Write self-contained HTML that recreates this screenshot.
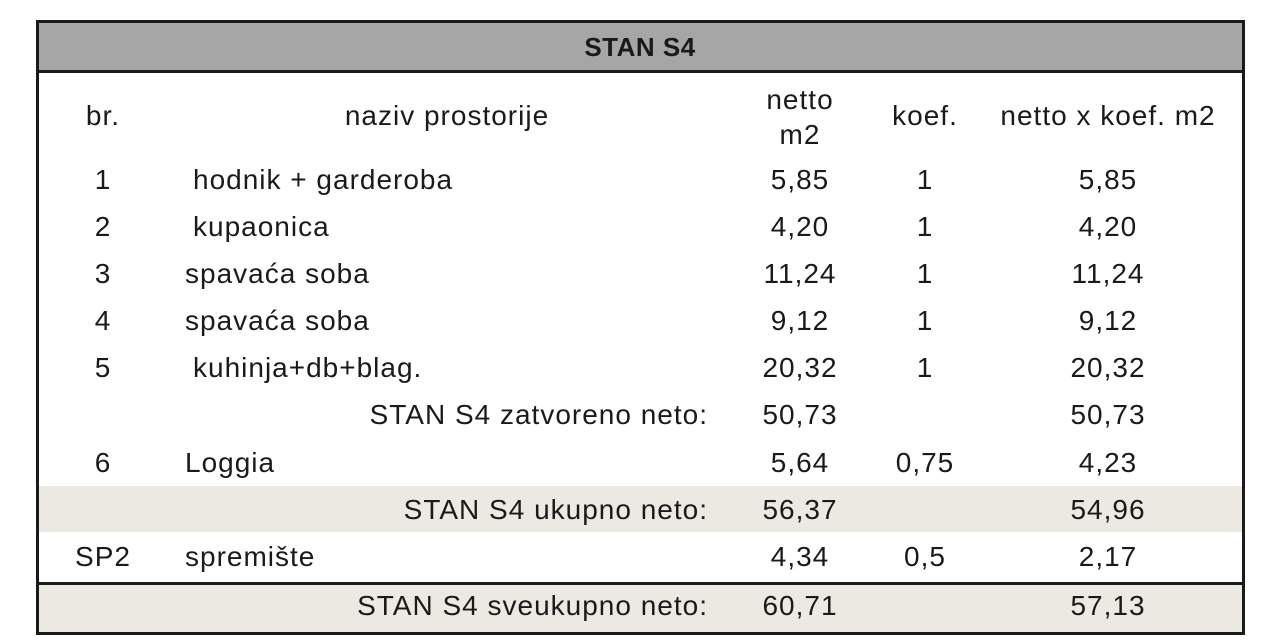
<!DOCTYPE html>
<html><head><meta charset="utf-8"><style>
body{margin:0;width:1280px;height:641px;background:#fff;position:relative;font-family:"Liberation Sans",sans-serif;color:#1a1a1a;overflow:hidden}
.t{position:absolute;font-size:28px;letter-spacing:1px;line-height:30px;white-space:nowrap}
.c{transform:translateX(-50%)}
.r{transform:translateX(-100%)}
.box{position:absolute;left:36px;top:20px;width:1203px;height:609px;border:3px solid #1a1a1a}
.band{position:absolute;left:39px;width:1203px;background:#ebe9e1}
</style></head><body>
<div style="position:absolute;left:39px;top:23px;width:1203px;height:47px;background:#a6a6a6;border-bottom:3px solid #1a1a1a"></div>
<div class="band" style="top:486px;height:46px"></div>
<div class="band" style="top:582px;height:47px;border-top:3px solid #1a1a1a"></div>
<div class="box"></div>
<div class="t c" style="left:640px;top:32px;font-weight:bold;font-size:26px;letter-spacing:0.5px">STAN S4</div>
<div class="t c" style="left:103px;top:101px">br.</div>
<div class="t c" style="left:447px;top:101px">naziv prostorije</div>
<div class="t c" style="left:800px;top:82px;text-align:center;line-height:35px">netto<br>m2</div>
<div class="t c" style="left:925px;top:101px">koef.</div>
<div class="t c" style="left:1108px;top:101px">netto x koef. m2</div>

<div class="t c" style="left:103px;top:165px">1</div><div class="t" style="left:193px;top:165px">hodnik + garderoba</div><div class="t c" style="left:800px;top:165px">5,85</div><div class="t c" style="left:925px;top:165px">1</div><div class="t c" style="left:1108px;top:165px">5,85</div>
<div class="t c" style="left:103px;top:212px">2</div><div class="t" style="left:193px;top:212px">kupaonica</div><div class="t c" style="left:800px;top:212px">4,20</div><div class="t c" style="left:925px;top:212px">1</div><div class="t c" style="left:1108px;top:212px">4,20</div>
<div class="t c" style="left:103px;top:259px">3</div><div class="t" style="left:185px;top:259px">spavaća soba</div><div class="t c" style="left:800px;top:259px">11,24</div><div class="t c" style="left:925px;top:259px">1</div><div class="t c" style="left:1108px;top:259px">11,24</div>
<div class="t c" style="left:103px;top:306px">4</div><div class="t" style="left:185px;top:306px">spavaća soba</div><div class="t c" style="left:800px;top:306px">9,12</div><div class="t c" style="left:925px;top:306px">1</div><div class="t c" style="left:1108px;top:306px">9,12</div>
<div class="t c" style="left:103px;top:353px">5</div><div class="t" style="left:193px;top:353px">kuhinja+db+blag.</div><div class="t c" style="left:800px;top:353px">20,32</div><div class="t c" style="left:925px;top:353px">1</div><div class="t c" style="left:1108px;top:353px">20,32</div>
<div class="t r" style="left:708px;top:400px">STAN S4 zatvoreno neto:</div><div class="t c" style="left:800px;top:400px">50,73</div><div class="t c" style="left:1108px;top:400px">50,73</div>
<div class="t c" style="left:103px;top:448px">6</div><div class="t" style="left:185px;top:448px">Loggia</div><div class="t c" style="left:800px;top:448px">5,64</div><div class="t c" style="left:925px;top:448px">0,75</div><div class="t c" style="left:1108px;top:448px">4,23</div>
<div class="t r" style="left:708px;top:495px">STAN S4 ukupno neto:</div><div class="t c" style="left:800px;top:495px">56,37</div><div class="t c" style="left:1108px;top:495px">54,96</div>
<div class="t c" style="left:103px;top:542px">SP2</div><div class="t" style="left:185px;top:542px">spremište</div><div class="t c" style="left:800px;top:542px">4,34</div><div class="t c" style="left:925px;top:542px">0,5</div><div class="t c" style="left:1108px;top:542px">2,17</div>
<div class="t r" style="left:708px;top:591px">STAN S4 sveukupno neto:</div><div class="t c" style="left:800px;top:591px">60,71</div><div class="t c" style="left:1108px;top:591px">57,13</div>
</body></html>
